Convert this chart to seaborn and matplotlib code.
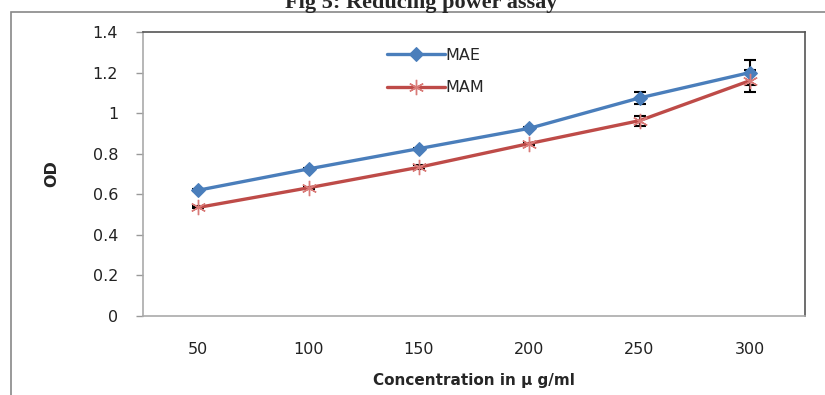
import matplotlib
matplotlib.use("Agg")
import matplotlib.pyplot as plt
import seaborn as sns
import numpy as np
from matplotlib.patches import Rectangle

# data
concentrations = ["50", "100", "150", "200", "250", "300"]
mae_od = [0.62, 0.725, 0.825, 0.925, 1.075, 1.2]
mam_od = [0.535, 0.632, 0.733, 0.85, 0.963, 1.16]
mae_err = [0.005, 0.005, 0.005, 0.005, 0.03, 0.06]
mam_err = [0.005, 0.005, 0.01, 0.005, 0.025, 0.055]

sns.set_theme(style="white")
plt.rcParams["font.family"] = ["DejaVu Sans"]

pos = np.arange(len(concentrations))

fig = plt.figure(figsize=(8.25, 3.95), dpi=100)
ax = fig.add_axes([143 / 825, 79 / 395, 662 / 825, 284 / 395])

# one call per series: diamond is filled, asterisk is line art
sns.lineplot(x=pos, y=mae_od, color="#4A7EBB", marker="D", markersize=7,
             markeredgecolor="#4A7EBB", linewidth=2.4, label="MAE", ax=ax)
sns.lineplot(x=pos, y=mam_od, color="#BE4B48", marker=(6, 2, 0), markersize=11,
             markeredgecolor="#D97B78", markeredgewidth=1.0, linewidth=2.4,
             label="MAM", ax=ax)

# error bars sit behind the series, as in the original
ax.errorbar(pos, mae_od, yerr=mae_err, fmt="none", ecolor="black",
            elinewidth=1.5, capsize=4, capthick=1.5, zorder=1.5)
ax.errorbar(pos, mam_od, yerr=mam_err, fmt="none", ecolor="black",
            elinewidth=1.5, capsize=4, capthick=1.5, zorder=1.5)

ax.set_xlim(-0.5, len(concentrations) - 0.5)
ax.set_ylim(0, 1.4)
ax.set_yticks(np.arange(0, 1.41, 0.2))
ax.set_yticklabels(["0", "0.2", "0.4", "0.6", "0.8", "1", "1.2", "1.4"])
ax.set_xticks(pos)
ax.set_xticklabels(concentrations)
ax.set_xticks(np.arange(-0.5, len(concentrations), 1.0), minor=True)
ax.tick_params(axis="x", which="major", length=0, pad=19, labelsize=11.5, colors="#222222")
ax.tick_params(axis="x", which="minor", length=5, width=1, color="#999999", direction="out")
ax.tick_params(axis="y", length=5, width=1, color="#999999", direction="out",
               left=True, pad=13, labelsize=11.5, labelcolor="#222222")

for side in ["left", "bottom"]:
    ax.spines[side].set_color("#aaaaaa")
    ax.spines[side].set_linewidth(1.2)
for side in ["top", "right"]:
    ax.spines[side].set_color("#555555")
    ax.spines[side].set_linewidth(1.2)

ax.set_xlabel("Concentration in µ g/ml", fontsize=11, fontweight="bold", labelpad=11)
ax.set_ylabel("OD", fontsize=11.5, fontweight="bold", labelpad=24)

handles, labels = ax.get_legend_handles_labels()
ax.legend(handles, labels, loc="upper left", bbox_to_anchor=(0.347, 0.995),
          frameon=False, fontsize=11.5, handlelength=3.6, handletextpad=0.05,
          labelspacing=1.1)

# outer chart border and cropped title
fig.patches.append(Rectangle((11 / 825, -0.2), 1.0, (395 - 12) / 395 + 0.2,
                             transform=fig.transFigure, fill=False,
                             edgecolor="#888888", linewidth=1.2))
fig.text(0.51, 1 - 8 / 395, "Fig 5: Reducing power assay", ha="center",
         va="baseline", fontsize=16, fontweight="bold", family="Liberation Serif")

fig.savefig("out.png", dpi=100)
